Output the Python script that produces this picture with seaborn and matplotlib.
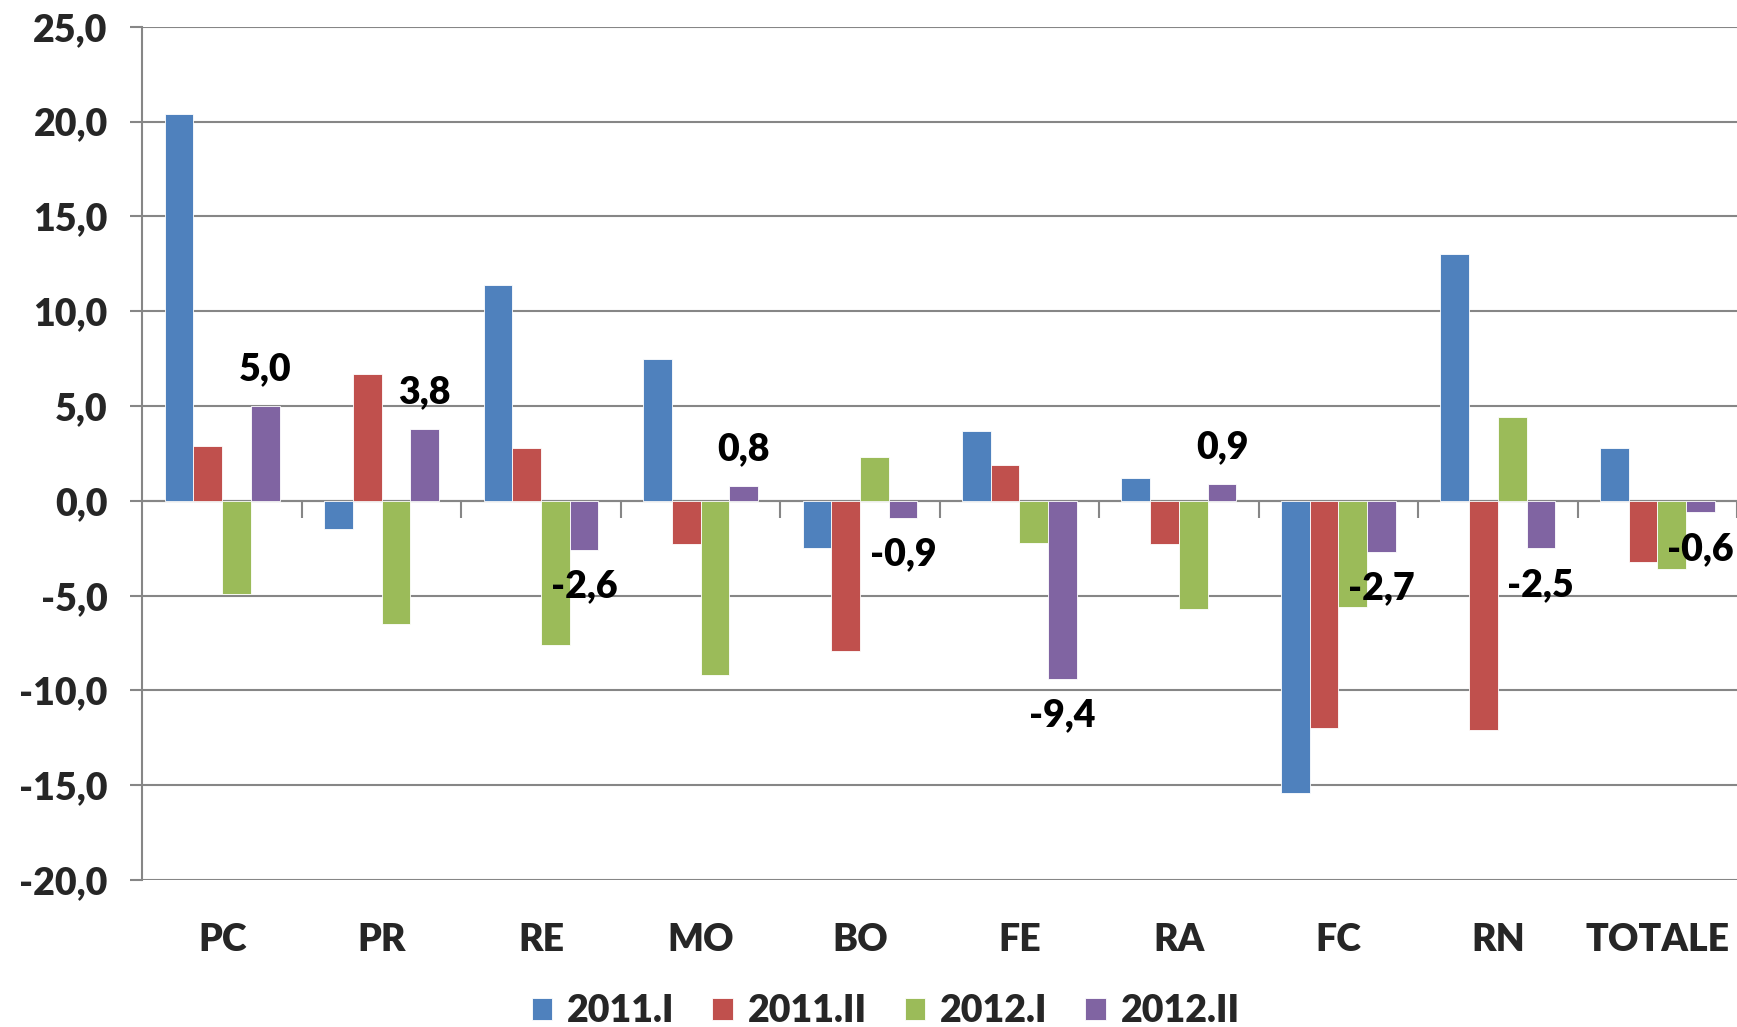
import pandas as pd
import seaborn as sns
import matplotlib.pyplot as plt
from matplotlib.ticker import FuncFormatter

# Data
province = ['PC', 'PR', 'RE', 'MO', 'BO', 'FE', 'RA', 'FC', 'RN', 'TOTALE']
periods = ['2011.I', '2011.II', '2012.I', '2012.II']
v_2011_I = [20.4, -1.5, 11.4, 7.5, -2.5, 3.7, 1.2, -15.4, 13.0, 2.8]
v_2011_II = [2.9, 6.7, 2.8, -2.3, -7.9, 1.9, -2.3, -12.0, -12.1, -3.2]
v_2012_I = [-4.9, -6.5, -7.6, -9.2, 2.3, -2.2, -5.7, -5.6, 4.4, -3.6]
v_2012_II = [5.0, 3.8, -2.6, 0.8, -0.9, -9.4, 0.9, -2.7, -2.5, -0.6]
colors = ['#4F81BD', '#C0504D', '#9BBB59', '#8064A2']

# Long format for seaborn
df = pd.DataFrame({'prov': province * 4,
                   'periodo': [p for p in periods for _ in province],
                   'valore': v_2011_I + v_2011_II + v_2012_I + v_2012_II})

sns.set_style('white')
plt.rcParams['font.family'] = ['Lato', 'DejaVu Sans']
plt.rcParams['font.weight'] = 'heavy'
fs = 27
grey = '#868686'

fig = plt.figure(figsize=(17.37, 10.27), dpi=100)
ax = fig.add_axes([0.082, 0.143, 0.918, 0.831])

sns.barplot(data=df, x='prov', y='valore', hue='periodo', hue_order=periods,
            palette=colors, width=0.72, saturation=1, ax=ax,
            edgecolor='white', linewidth=0.6, legend=True)

# Data labels only on the last series
lab = ['{:.1f}'.format(v).replace('.', ',') for v in v_2012_II]
ax.bar_label(ax.containers[3], labels=lab, padding=14, fontsize=fs,
             fontweight='heavy', color='black')

ax.set_ylim(-20, 25)
ax.set_xlim(-0.5, 9.5)
ax.set_yticks(range(-20, 26, 5))
ax.yaxis.set_major_formatter(FuncFormatter(lambda v, p: '{:.1f}'.format(v).replace('.', ',')))
ax.grid(axis='y', color=grey, linewidth=1.5)
ax.set_axisbelow(True)
for s in ['top', 'right', 'bottom']:
    ax.spines[s].set_visible(False)
ax.spines['left'].set_color(grey)
ax.spines['left'].set_linewidth(1.5)
ax.tick_params(axis='y', length=9, width=1.5, color=grey, labelsize=fs, pad=16, left=True)
ax.tick_params(axis='x', length=0, labelsize=fs, pad=31)
ax.set_xlabel('')
ax.set_ylabel('')

# Zero line with category separators
sec = ax.secondary_xaxis(20 / 45)
sec.set_xticks([i + 0.5 for i in range(len(province))])
sec.set_xticklabels([])
sec.tick_params(length=12, width=1.5, color=grey)
sec.spines['bottom'].set_color(grey)
sec.spines['bottom'].set_linewidth(1.5)

handles, labels = ax.get_legend_handles_labels()
ax.get_legend().remove()
fig.legend(handles, labels, loc='lower center', bbox_to_anchor=(0.51, -0.034), ncol=4,
           frameon=False, fontsize=fs, handlelength=0.55, handleheight=0.55,
           handletextpad=0.4, columnspacing=1.0)

fig.savefig('out.png', dpi=100)
